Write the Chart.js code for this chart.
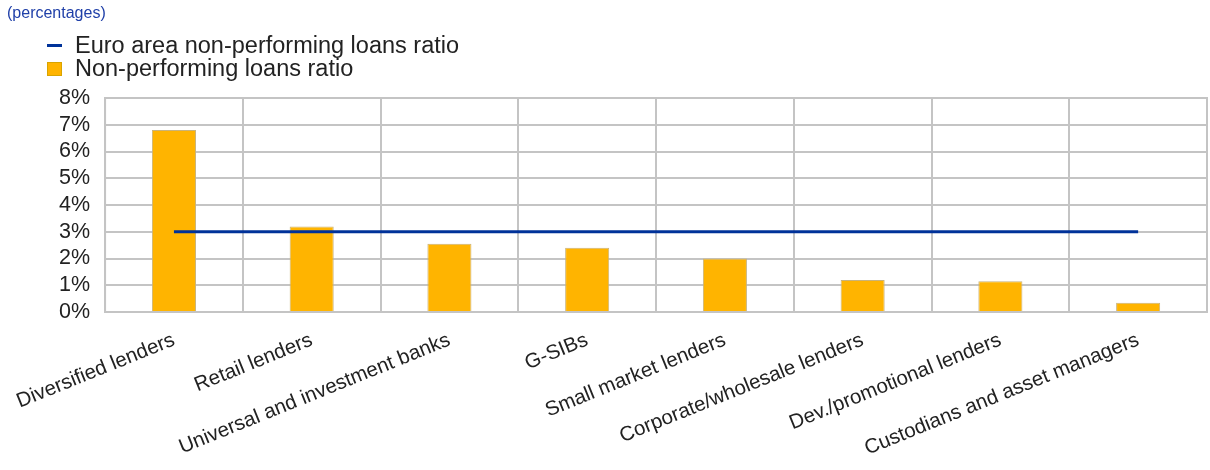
<!DOCTYPE html>
<html>
<head>
<meta charset="utf-8">
<script src="https://cdn.jsdelivr.net/npm/chart.js@4/dist/chart.umd.min.js"></script>
<style>
    body { margin: 0; background: #fff; }
    #wrap { position: relative; width: 1210px; height: 470px; }
    #subtitle { position: absolute; left: 7px; top: 4px; font: 16px "Liberation Sans", Arial, sans-serif; color: #1f3fa8; }
    #legend { position: absolute; left: 47px; top: 34px; font: 23.5px "Liberation Sans", Arial, sans-serif; color: #222; line-height: 23px; }
    #legend .item { display: flex; align-items: center; }
    #legend .mark { width: 15px; margin-right: 13px; }
</style>
</head>
<body>
<div id="wrap">
    <div id="subtitle">(percentages)</div>
    <div id="legend"></div>
    <canvas id="npl" width="1210" height="470"></canvas>
</div>
<script>
var categories = [
    "Diversified lenders",
    "Retail lenders",
    "Universal and investment banks",
    "G-SIBs",
    "Small market lenders",
    "Corporate/wholesale lenders",
    "Dev./promotional lenders",
    "Custodians and asset managers"
];
var npl_ratio = [6.8, 3.2, 2.55, 2.4, 2.0, 1.2, 1.15, 0.35];
var euro_area_ratio = [3.0, 3.0, 3.0, 3.0, 3.0, 3.0, 3.0, 3.0];
var y_ticks = [0, 1, 2, 3, 4, 5, 6, 7, 8];

var blue = "#003299";
var yellow = "#ffb400";

//legend
var legendItems = [
    { label: "Euro area non-performing loans ratio", type: "line", color: blue },
    { label: "Non-performing loans ratio", type: "box", color: yellow }
];
var legendEl = document.getElementById("legend");
legendItems.forEach(function (it) {
    var row = document.createElement("div");
    row.className = "item";
    var mark = document.createElement("span");
    mark.className = "mark";
    if (it.type == "line") {
        mark.style.height = "3px";
    } else {
        mark.style.height = "14px";
        mark.style.boxSizing = "border-box";
        mark.style.border = "1px solid #d9a400";
    }
    mark.style.background = it.color;
    row.appendChild(mark);
    row.appendChild(document.createTextNode(it.label));
    legendEl.appendChild(row);
});

var ctx = document.getElementById("npl").getContext("2d");
new Chart(ctx, {
    type: "bar",
    data: {
        labels: categories,
        datasets: [
            {
                type: "line",
                label: "Euro area non-performing loans ratio",
                data: euro_area_ratio,
                borderColor: blue,
                borderWidth: 3,
                pointRadius: 0,
                fill: false,
                order: 0,
            },
            {
                label: "Non-performing loans ratio",
                data: npl_ratio,
                backgroundColor: yellow,
                borderColor: "#c9b37a",
                borderWidth: 1,
                barPercentage: 0.32,
                categoryPercentage: 1,
                order: 1,
            },
        ],
    },
    options: {
        responsive: false,
        animation: false,
        layout: { padding: { top: 98, left: 44, right: 3, bottom: 0 } },
        plugins: {
            legend: { display: false },
            tooltip: { enabled: false },
        },
        scales: {
            x: {
                afterFit: function (axis) {
                    // room under the plot for the slanted labels
                    axis.height = 158;
                    axis.paddingLeft = 0;
                    axis.paddingRight = 0;
                },
                grid: { color: "#c4c4c4", lineWidth: 2, offset: true, drawTicks: false },
                border: { color: "#c4c4c4", width: 2 },
                ticks: {
                    color: "#222",
                    font: { family: "'Liberation Sans', Arial, sans-serif", size: 20.5 },
                    maxRotation: 22,
                    minRotation: 22,
                    padding: 16,
                },
            },
            y: {
                min: 0,
                max: 8,
                afterBuildTicks: function (axis) {
                    axis.ticks = y_ticks.map((v) => ({ value: v }));
                },
                grid: { color: "#c4c4c4", lineWidth: 2, drawTicks: false },
                border: { color: "#c4c4c4", width: 2 },
                ticks: {
                    color: "#222",
                    font: { family: "'Liberation Sans', Arial, sans-serif", size: 21.5 },
                    padding: 15,
                    autoSkip: false,
                    callback: function (v) { return v + "%"; },
                },
            },
        },
    },
    plugins: [{
        id: "rightBorder",
        afterDraw: function (chart) {
            var a = chart.chartArea;
            var c = chart.ctx;
            c.save();
            c.strokeStyle = "#c4c4c4";
            c.lineWidth = 2;
            c.strokeRect(a.left, a.top, a.right - a.left, a.bottom - a.top);
            c.restore();
        },
    }],
});
</script>
</body>
</html>
